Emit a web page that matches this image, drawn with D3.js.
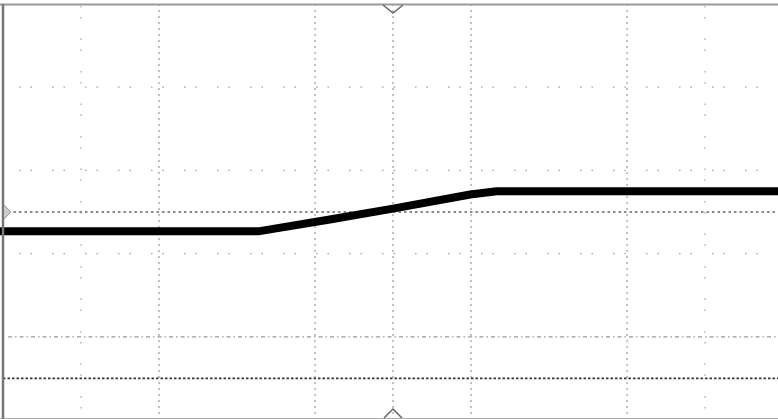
<!DOCTYPE html>
<html>
<head>
<meta charset="utf-8">
<script src="https://cdn.jsdelivr.net/npm/d3@7"></script>
<style>
html,body{margin:0;padding:0;background:#fff;}
svg{display:block;}
</style>
</head>
<body>
<script>
// Trace (divisions): horizontal 0..10, vertical 0..5
const traceX = [-0.1, 3.29, 4.19, 5.0, 5.99, 6.33, 10.1];
const traceY = [2.27, 2.27, 2.41, 2.54, 2.71, 2.75, 2.75];
// Grid lines (divisions)
const denseVLines = [2, 4, 5, 6, 8];
const sparseVLines = [1, 9];
const sparseHLines = [2, 3, 4];
const dashDotHLines = [1];
// Cursor levels
const cursorLight = [2.5];
const cursorDark = [0.5];

const W = 778, H = 419;
const svg = d3.select("body").append("svg").attr("width", W).attr("height", H);
svg.append("rect").attr("width", W).attr("height", H).attr("fill", "#fff");

const x = d3.scaleLinear().domain([0, 10]).range([3, 783]);
const y = d3.scaleLinear().domain([0, 5]).range([420, 4]);

const g = svg.append("g");

g.selectAll(".vd").data(denseVLines).enter().append("line")
  .attr("x1", d => x(d)).attr("x2", d => x(d)).attr("y1", y(5)).attr("y2", y(0))
  .attr("stroke", "#9a9a9a").attr("stroke-width", 1.2).attr("stroke-dasharray", "2,4");
g.selectAll(".vs").data(sparseVLines).enter().append("line")
  .attr("x1", d => x(d)).attr("x2", d => x(d)).attr("y1", y(5)+2).attr("y2", y(0))
  .attr("stroke", "#a0a0a0").attr("stroke-width", 1.2).attr("stroke-dasharray", "1.5,9.5,1.5,20");
g.selectAll(".hs").data(sparseHLines).enter().append("line")
  .attr("x1", 19).attr("x2", W).attr("y1", d => y(d)).attr("y2", d => y(d))
  .attr("stroke", "#a0a0a0").attr("stroke-width", 1.2).attr("stroke-dasharray", "1.5,10,1.5,20");
g.selectAll(".hdd").data(dashDotHLines).enter().append("line")
  .attr("x1", 8).attr("x2", W).attr("y1", d => y(d)).attr("y2", d => y(d))
  .attr("stroke", "#999").attr("stroke-width", 1.2).attr("stroke-dasharray", "4,3,1.5,3");
g.selectAll(".cl").data(cursorLight).enter().append("line")
  .attr("x1", 8).attr("x2", W).attr("y1", d => y(d)).attr("y2", d => y(d))
  .attr("stroke", "#8a8a8a").attr("stroke-width", 1.8).attr("stroke-dasharray", "2.5,3");
g.selectAll(".cd").data(cursorDark).enter().append("line")
  .attr("x1", 3).attr("x2", W).attr("y1", d => y(d)).attr("y2", d => y(d))
  .attr("stroke", "#333").attr("stroke-width", 1.8).attr("stroke-dasharray", "2.5,2");

const line = d3.line().x((d, i) => x(traceX[i])).y((d, i) => y(traceY[i]));
g.append("path").datum(traceY).attr("d", line)
  .attr("fill", "none").attr("stroke", "#000").attr("stroke-width", 8)
  .attr("stroke-linejoin", "round");

svg.append("line").attr("x1", 0).attr("x2", W).attr("y1", 4.5).attr("y2", 4.5)
  .attr("stroke", "#999").attr("stroke-width", 2);
svg.append("line").attr("x1", 0).attr("x2", W).attr("y1", 418.5).attr("y2", 418.5)
  .attr("stroke", "#aaa").attr("stroke-width", 1);
svg.append("line").attr("x1", 3).attr("x2", 3).attr("y1", 4).attr("y2", H)
  .attr("stroke", "#777").attr("stroke-width", 2.5);

const cx = x(5);
svg.append("path")
  .attr("d", `M${cx-10},5 L${cx},13 L${cx+10},5`)
  .attr("fill", "none").attr("stroke", "#666").attr("stroke-width", 1.5);
svg.append("path")
  .attr("d", `M${cx-9},418 L${cx},409 L${cx+9},418`)
  .attr("fill", "none").attr("stroke", "#666").attr("stroke-width", 1.5);
const gy = y(2.5);
svg.append("path")
  .attr("d", `M4,${gy-7} L11,${gy} L4,${gy+7}`)
  .attr("fill", "#ccc").attr("stroke", "#999").attr("stroke-width", 1);
</script>
</body>
</html>
